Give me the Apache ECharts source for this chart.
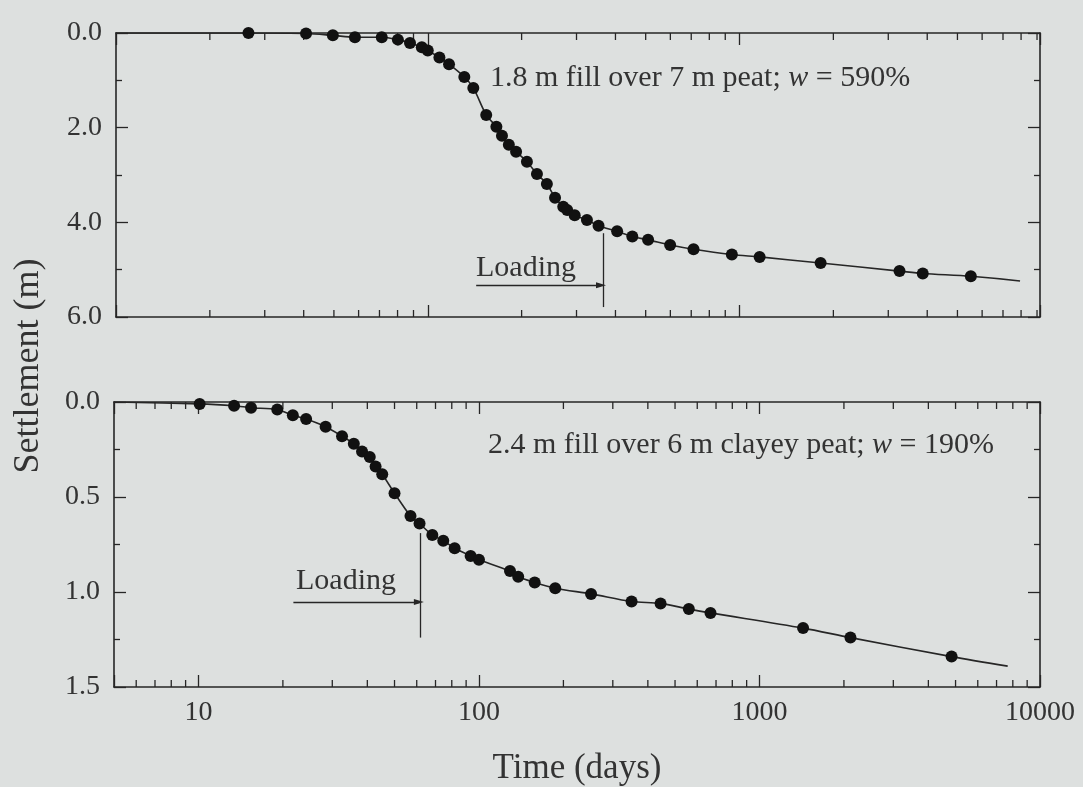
<!DOCTYPE html>
<html>
<head>
<meta charset="utf-8">
<title>Settlement vs time</title>
<script src="https://cdn.jsdelivr.net/npm/echarts@6/dist/echarts.min.js"></script>
<style>
  html, body { margin: 0; padding: 0; background: #dde0df; }
  #chart { width: 1083px; height: 787px; }
</style>
</head>
<body>
<div id="chart"></div>
<script>
// Upper panel: 1.8 m fill over 7 m peat
const topDays = [26.6, 40.7, 49.6, 58.4, 71.2, 80.2, 87.7, 95.7, 100, 109, 117, 131, 140, 154, 166, 173, 182, 192, 208, 224, 241, 256, 272, 280, 296, 324, 353, 405, 453, 509, 599, 712, 945, 1160, 1820, 3260, 3870, 5520];
const topSettlement = [0.0, 0.01, 0.05, 0.09, 0.09, 0.14, 0.21, 0.30, 0.37, 0.52, 0.66, 0.93, 1.16, 1.73, 1.98, 2.17, 2.36, 2.51, 2.72, 2.98, 3.19, 3.48, 3.67, 3.74, 3.85, 3.95, 4.07, 4.19, 4.30, 4.37, 4.48, 4.57, 4.68, 4.73, 4.86, 5.03, 5.08, 5.14];
const topCurveStart = [10, 0.0];
const topCurveEnd = [7940, 5.24];
const topLoadingDay = 365;

// Lower panel: 2.4 m fill over 6 m clayey peat
const bottomDays = [10.1, 13.4, 15.4, 19.1, 21.7, 24.2, 28.4, 32.5, 35.8, 38.3, 40.8, 42.8, 45.2, 50.0, 57.0, 61.4, 68.2, 74.6, 81.9, 93.4, 100, 129, 138, 158, 187, 251, 350, 444, 560, 669, 1430, 2110, 4840];
const bottomSettlement = [0.01, 0.02, 0.03, 0.04, 0.07, 0.09, 0.13, 0.18, 0.22, 0.26, 0.29, 0.34, 0.38, 0.48, 0.60, 0.64, 0.70, 0.73, 0.77, 0.81, 0.83, 0.89, 0.92, 0.95, 0.98, 1.01, 1.05, 1.06, 1.09, 1.11, 1.19, 1.24, 1.34];
const bottomCurveStart = [5, 0.0];
const bottomCurveEnd = [7670, 1.39];
const bottomLoadingDay = 62;

// Axis ticks
const xTickLabels = [10, 100, 1000, 10000];
const topMinorTicks = [20, 30, 40, 50, 60, 70, 80, 90, 200, 300, 400, 500, 600, 700, 800, 900, 2000, 3000, 4000, 5000, 6000, 7000, 8000, 9000];
const bottomMinorTicks = [6, 7, 8, 9, 20, 30, 40, 50, 60, 70, 80, 90, 200, 300, 400, 500, 600, 700, 800, 900, 2000, 3000, 4000, 5000, 6000, 7000, 8000, 9000];

const serif = "'Liberation Serif', 'Times New Roman', serif";
const ink = '#262626';
const textInk = '#333333';
const dotInk = '#111111';

const pairs = (xs, ys) => xs.map((x, i) => [x, ys[i]]);

function xAxisDef(gridIndex, min, max, position, showLabels) {
  return {
    type: 'log', logBase: 10, gridIndex, min, max, position,
    axisLine: { show: true, onZero: false, lineStyle: { color: ink, width: 1.6 } },
    axisTick: { show: true, inside: true, length: 12, lineStyle: { color: ink, width: 1.3 } },
    minorTick: { show: false },
    splitLine: { show: false },
    axisLabel: {
      show: showLabels, margin: 12, color: textInk, fontFamily: serif, fontSize: 28,
      formatter: v => (xTickLabels.some(t => Math.abs(t - v) / t < 1e-6) ? String(Math.round(v)) : '')
    }
  };
}

function yAxisDef(gridIndex, max, interval, position, showLabels) {
  return {
    type: 'value', gridIndex, min: 0, max, interval, inverse: true, position,
    axisLine: { show: true, onZero: false, lineStyle: { color: ink, width: 1.6 } },
    axisTick: { show: true, inside: true, length: 12, lineStyle: { color: ink, width: 1.3 } },
    minorTick: { show: true, splitNumber: 2, length: 6, lineStyle: { color: ink, width: 1.3 } },
    splitLine: { show: false },
    minorSplitLine: { show: false },
    axisLabel: { show: showLabels, margin: 14, color: textInk, fontFamily: serif, fontSize: 28, formatter: v => v.toFixed(1) }
  };
}

// Log-decade minor ticks (2..9 in each decade) on the bottom and top frame lines
function minorTickSeries(xIdx, yIdx, values, yMax) {
  return {
    type: 'custom', xAxisIndex: xIdx, yAxisIndex: yIdx, silent: true, clip: false, z: 3,
    data: values.map(v => [v, 0]),
    renderItem(params, api) {
      const v = api.value(0);
      const t = api.coord([v, 0]);
      const b = api.coord([v, yMax]);
      const style = { stroke: ink, lineWidth: 1.3 };
      return {
        type: 'group',
        children: [
          { type: 'line', shape: { x1: t[0], y1: t[1], x2: t[0], y2: t[1] + 7 }, style },
          { type: 'line', shape: { x1: b[0], y1: b[1], x2: b[0], y2: b[1] - 7 }, style }
        ]
      };
    }
  };
}

function curveSeries(xIdx, yIdx, start, days, vals, end, loading) {
  return {
    type: 'line', xAxisIndex: xIdx, yAxisIndex: yIdx,
    data: [start].concat(pairs(days, vals), [end]),
    smooth: 0.3, showSymbol: false, symbol: 'none',
    lineStyle: { color: ink, width: 1.6 },
    z: 4,
    markLine: {
      silent: true, animation: false, label: { show: false },
      lineStyle: { color: ink, width: 1.3, type: 'solid' },
      data: [
        [{ coord: [loading.day, loading.from], symbol: 'none' }, { coord: [loading.day, loading.to], symbol: 'none' }],
        [{ coord: [loading.arrowFrom, loading.arrowY], symbol: 'none' }, { coord: [loading.day * 0.985, loading.arrowY], symbol: 'triangle', symbolSize: [6, 10], symbolRotate: -90 }]
      ]
    }
  };
}

function dotSeries(xIdx, yIdx, days, vals) {
  return {
    type: 'scatter', xAxisIndex: xIdx, yAxisIndex: yIdx,
    data: pairs(days, vals), symbol: 'circle', symbolSize: 12,
    itemStyle: { color: dotInk, opacity: 1 }, z: 5
  };
}

const chart = echarts.init(document.getElementById('chart'), null, { renderer: 'canvas' });

chart.setOption({
  animation: false,
  backgroundColor: '#dde0df',
  grid: [
    { left: 116, top: 33, right: 43, height: 284, outerBoundsMode: 'none' },
    { left: 114, top: 402, right: 43, height: 285, outerBoundsMode: 'none' }
  ],
  xAxis: [
    xAxisDef(0, 10, 9200, 'bottom', false),
    xAxisDef(0, 10, 9200, 'top', false),
    xAxisDef(1, 5, 10000, 'bottom', true),
    xAxisDef(1, 5, 10000, 'top', false)
  ],
  yAxis: [
    yAxisDef(0, 6, 2, 'left', true),
    yAxisDef(0, 6, 2, 'right', false),
    yAxisDef(1, 1.5, 0.5, 'left', true),
    yAxisDef(1, 1.5, 0.5, 'right', false)
  ],
  series: [
    minorTickSeries(0, 0, topMinorTicks, 6),
    minorTickSeries(2, 2, bottomMinorTicks, 1.5),
    curveSeries(0, 0, topCurveStart, topDays, topSettlement, topCurveEnd,
      { day: topLoadingDay, from: 4.23, to: 5.79, arrowFrom: 143, arrowY: 5.33 }),
    curveSeries(2, 2, bottomCurveStart, bottomDays, bottomSettlement, bottomCurveEnd,
      { day: bottomLoadingDay, from: 0.69, to: 1.24, arrowFrom: 21.8, arrowY: 1.052 }),
    dotSeries(0, 0, topDays, topSettlement),
    dotSeries(2, 2, bottomDays, bottomSettlement)
  ],
  graphic: [
    {
      type: 'text', x: 29, y: 366, rotation: Math.PI / 2,
      style: { text: 'Settlement (m)', font: '36px ' + serif, fill: textInk, align: 'center', verticalAlign: 'middle' }
    },
    {
      type: 'text', x: 577, y: 769,
      style: { text: 'Time (days)', font: '35px ' + serif, fill: textInk, align: 'center', verticalAlign: 'middle' }
    },
    {
      type: 'text', x: 490, y: 78,
      style: {
        text: '{n|1.8 m fill over 7 m peat; }{i|w}{n| = 590%}', verticalAlign: 'middle', align: 'left',
        rich: {
          n: { fontFamily: serif, fontSize: 30, color: textInk, fill: textInk },
          i: { fontFamily: serif, fontSize: 30, fontStyle: 'italic', color: textInk, fill: textInk }
        }
      }
    },
    {
      type: 'text', x: 488, y: 445,
      style: {
        text: '{n|2.4 m fill over 6 m clayey peat; }{i|w}{n| = 190%}', verticalAlign: 'middle', align: 'left',
        rich: {
          n: { fontFamily: serif, fontSize: 30, color: textInk, fill: textInk },
          i: { fontFamily: serif, fontSize: 30, fontStyle: 'italic', color: textInk, fill: textInk }
        }
      }
    },
    {
      type: 'text', x: 476, y: 268,
      style: { text: 'Loading', font: '30px ' + serif, fill: textInk, align: 'left', verticalAlign: 'middle' }
    },
    {
      type: 'text', x: 296, y: 581,
      style: { text: 'Loading', font: '30px ' + serif, fill: textInk, align: 'left', verticalAlign: 'middle' }
    }
  ]
});
</script>
</body>
</html>
